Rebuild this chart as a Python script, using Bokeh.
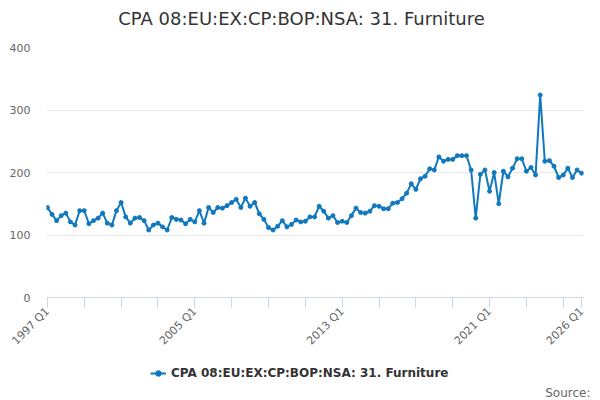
from bokeh.plotting import figure
from bokeh.models import Range1d, FixedTicker, Legend, LegendItem, Label, Title
from bokeh.layouts import column
from bokeh.embed import file_html
from bokeh.resources import INLINE
import math

title_text = "CPA 08:EU:EX:CP:BOP:NSA: 31. Furniture"
series_name = "CPA 08:EU:EX:CP:BOP:NSA: 31. Furniture"
source_text = "Source:"

years = list(range(1997, 2027))
categories = [f"{y} Q{q}" for y in years for q in (1, 2, 3, 4)][:117]

values = [
    144, 133, 123, 131, 135, 121, 116, 139, 139, 118,
    123, 127, 135, 119, 116, 139, 152, 129, 119, 127,
    128, 123, 108, 116, 119, 113, 108, 128, 125, 124,
    118, 125, 121, 139, 119, 144, 136, 144, 143, 147,
    152, 157, 144, 159, 146, 152, 134, 125, 112, 108,
    114, 123, 113, 117, 124, 121, 122, 129, 129, 146,
    138, 127, 131, 120, 122, 120, 131, 143, 136, 135,
    138, 147, 146, 142, 142, 151, 152, 158, 167, 182,
    173, 190, 194, 206, 204, 225, 218, 221, 221, 227,
    227, 227, 204, 127, 197, 204, 170, 200, 150, 202,
    193, 207, 222, 222, 202, 208, 196, 324, 218, 219,
    210, 192, 196, 207, 192, 204, 199,
]

y_ticks = [0, 100, 200, 300, 400]
x_tick_idx = list(range(0, 116, 8)) + [116]
x_label_idx = [0, 32, 64, 96, 116]

xs = list(range(len(values)))
color = "#1078be"
FONT = "DejaVu Sans"


def blank_figure(h, **kw):
    f = figure(width=600, height=h, output_backend="svg", toolbar_location=None,
               x_range=Range1d(46, 583), y_range=Range1d(0, h),
               x_axis_location=None, y_axis_location=None,
               min_border_left=46, min_border_right=17, **kw)
    f.grid.visible = False
    f.outline_line_color = None
    return f


# --- title strip ---
top = blank_figure(37, min_border_top=0, min_border_bottom=0)
top.add_layout(Label(x=301, y=19, text=title_text, text_align="center",
                     text_baseline="middle", text_font=FONT, text_font_size="18px",
                     text_color="#333333"))

# --- main chart ---
p = figure(frame_width=537, frame_height=250, output_backend="svg", toolbar_location=None,
           x_range=Range1d(-0.2, 116.4), y_range=Range1d(0, 400),
           min_border_left=46, min_border_right=17, min_border_top=10,
           min_border_bottom=63)
p.outline_line_color = None

p.line(xs, values, line_color=color, line_width=2)
p.scatter(xs, values, size=4, fill_color=color, line_color=color)

p.yaxis.ticker = FixedTicker(ticks=y_ticks)
p.yaxis.axis_line_color = None
p.yaxis.major_tick_line_color = None
p.yaxis.minor_tick_line_color = None
p.yaxis.major_label_text_font = FONT
p.yaxis.major_label_text_font_size = "11px"
p.yaxis.major_label_text_color = "#666666"
p.yaxis.major_label_standoff = 10
p.ygrid.grid_line_color = "#e6e6e6"
p.xgrid.grid_line_color = None

p.xaxis.ticker = FixedTicker(ticks=x_tick_idx)
p.xaxis.major_label_overrides = {i: (categories[i] if i in x_label_idx else "") for i in x_tick_idx}
p.xaxis.axis_line_color = "#ccd6eb"
p.xaxis.major_tick_line_color = "#ccd6eb"
p.xaxis.major_tick_in = 0
p.xaxis.major_tick_out = 10
p.xaxis.minor_tick_line_color = None
p.xaxis.major_label_orientation = math.pi / 4
p.xaxis.major_label_text_font = FONT
p.xaxis.major_label_text_font_size = "11px"
p.xaxis.major_label_text_color = "#666666"
p.xaxis.major_label_standoff = 2

# --- legend / source strip ---
bot = blank_figure(40, min_border_top=0, min_border_bottom=15)
lg_line = bot.line([-1000, -999], [-1000, -999], line_color=color, line_width=2)
lg_pts = bot.scatter([-1000], [-1000], size=4, fill_color=color, line_color=color)
legend = Legend(items=[LegendItem(label=series_name, renderers=[lg_line, lg_pts])],
                location=(104, 4), orientation="horizontal",
                label_text_font=FONT, label_text_font_size="12px",
                label_text_font_style="bold", label_text_color="#333333",
                border_line_color=None, background_fill_alpha=0,
                glyph_width=16, glyph_height=14, label_standoff=5,
                margin=0, padding=0)
bot.add_layout(legend, "center")
bot.add_layout(Title(text=source_text, align="right", offset=-7, standoff=0,
                     vertical_align="middle", text_font=FONT, text_font_size="12px",
                     text_font_style="normal", text_color="#666666"), "below")

layout = column(top, p, bot, spacing=0)
open("out.html", "w").write(file_html(layout, INLINE))
